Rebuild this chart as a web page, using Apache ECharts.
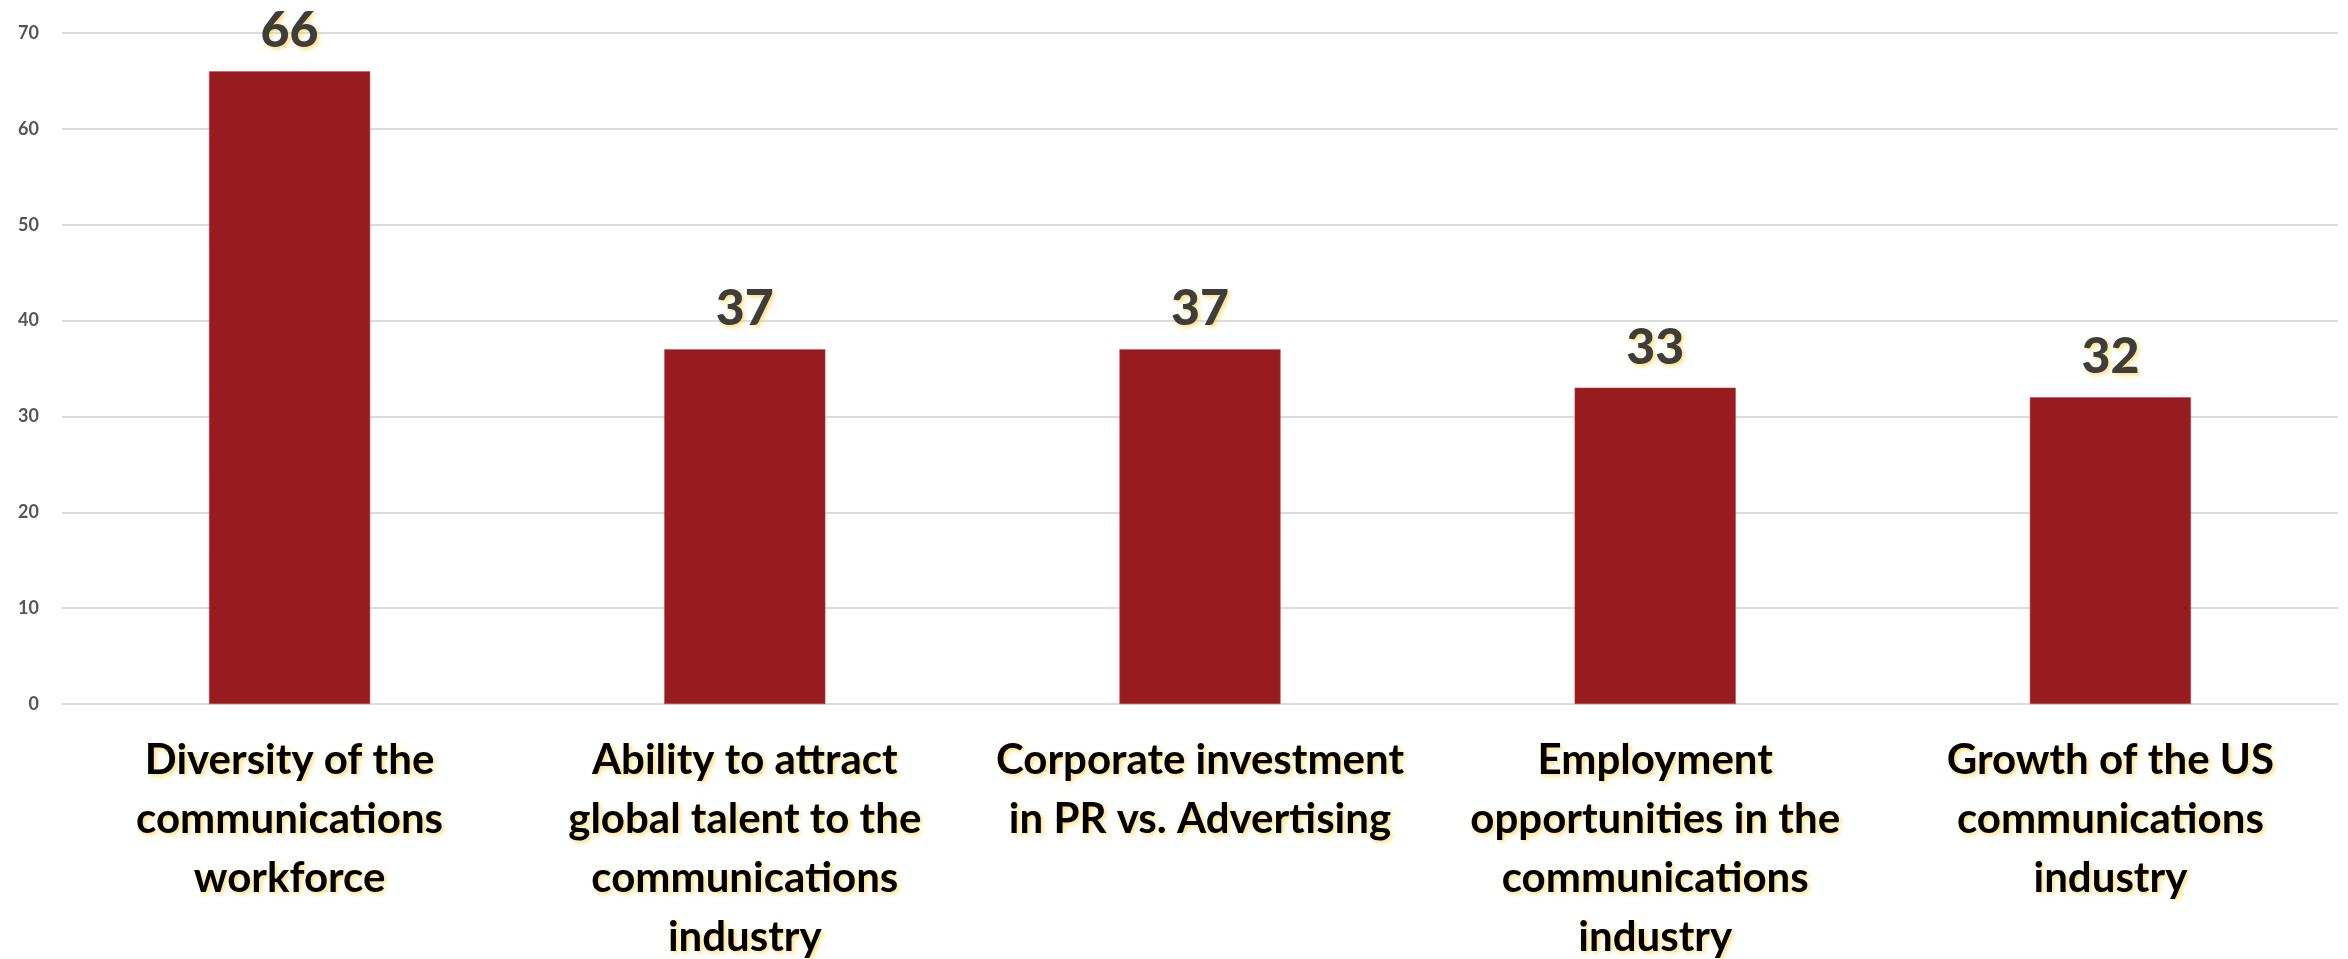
<!DOCTYPE html>
<html>
<head>
<meta charset="utf-8">
<title>Communications industry priorities</title>
<script src="https://cdn.jsdelivr.net/npm/echarts@6/dist/echarts.min.js"></script>
<style>
  html, body { margin: 0; padding: 0; background: #ffffff; }
  #chart { width: 2348px; height: 959px; }
</style>
</head>
<body>
<div id="chart"></div>
<script>
// Topics shown along the bottom axis
const categories = [
  'Diversity of the\ncommunications\nworkforce',
  'Ability to attract\nglobal talent to the\ncommunications\nindustry',
  'Corporate investment\nin PR vs. Advertising',
  'Employment\nopportunities in the\ncommunications\nindustry',
  'Growth of the US\ncommunications\nindustry'
];

// Score for each topic
const values = [66, 37, 37, 33, 32];

// Value axis ticks
const yTicks = [0, 10, 20, 30, 40, 50, 60, 70];

// Soft golden glow behind the bold texts
const glow = {
  textShadowColor: 'rgba(255, 205, 60, 0.7)',
  textShadowBlur: 4,
  textShadowOffsetX: 2,
  textShadowOffsetY: 2
};

const chart = echarts.init(document.getElementById('chart'), null, { renderer: 'canvas' });

chart.setOption({
  backgroundColor: '#ffffff',
  animation: false,
  grid: {
    left: 62, right: 10, top: 33, bottom: 255,
    containLabel: false,
    outerBoundsMode: 'none'
  },
  xAxis: {
    type: 'category',
    data: categories,
    axisLine: { show: false },
    axisTick: { show: false },
    axisLabel: Object.assign({
      interval: 0,
      margin: 27,
      color: '#000000',
      fontFamily: 'Lato',
      fontWeight: 'bold',
      fontSize: 42,
      lineHeight: 59,
      align: 'center'
    }, glow)
  },
  yAxis: {
    type: 'value',
    min: yTicks[0],
    max: yTicks[yTicks.length - 1],
    interval: yTicks[1] - yTicks[0],
    axisLine: { show: false },
    axisTick: { show: false },
    splitLine: { lineStyle: { color: '#dcdcdc', width: 2 } },
    axisLabel: {
      margin: 23,
      color: '#555555',
      fontFamily: 'Lato',
      fontWeight: 'bold',
      fontSize: 18
    }
  },
  series: [{
    type: 'bar',
    data: values,
    barWidth: '35.4%',
    itemStyle: { color: '#981b1f', borderColor: '#b8494c', borderWidth: 0.5 },
    label: Object.assign({
      show: true,
      position: 'top',
      distance: 15,
      color: '#3d3d3d',
      fontFamily: 'Lato',
      fontWeight: 900,
      fontSize: 50
    }, glow)
  }]
});
</script>
</body>
</html>
